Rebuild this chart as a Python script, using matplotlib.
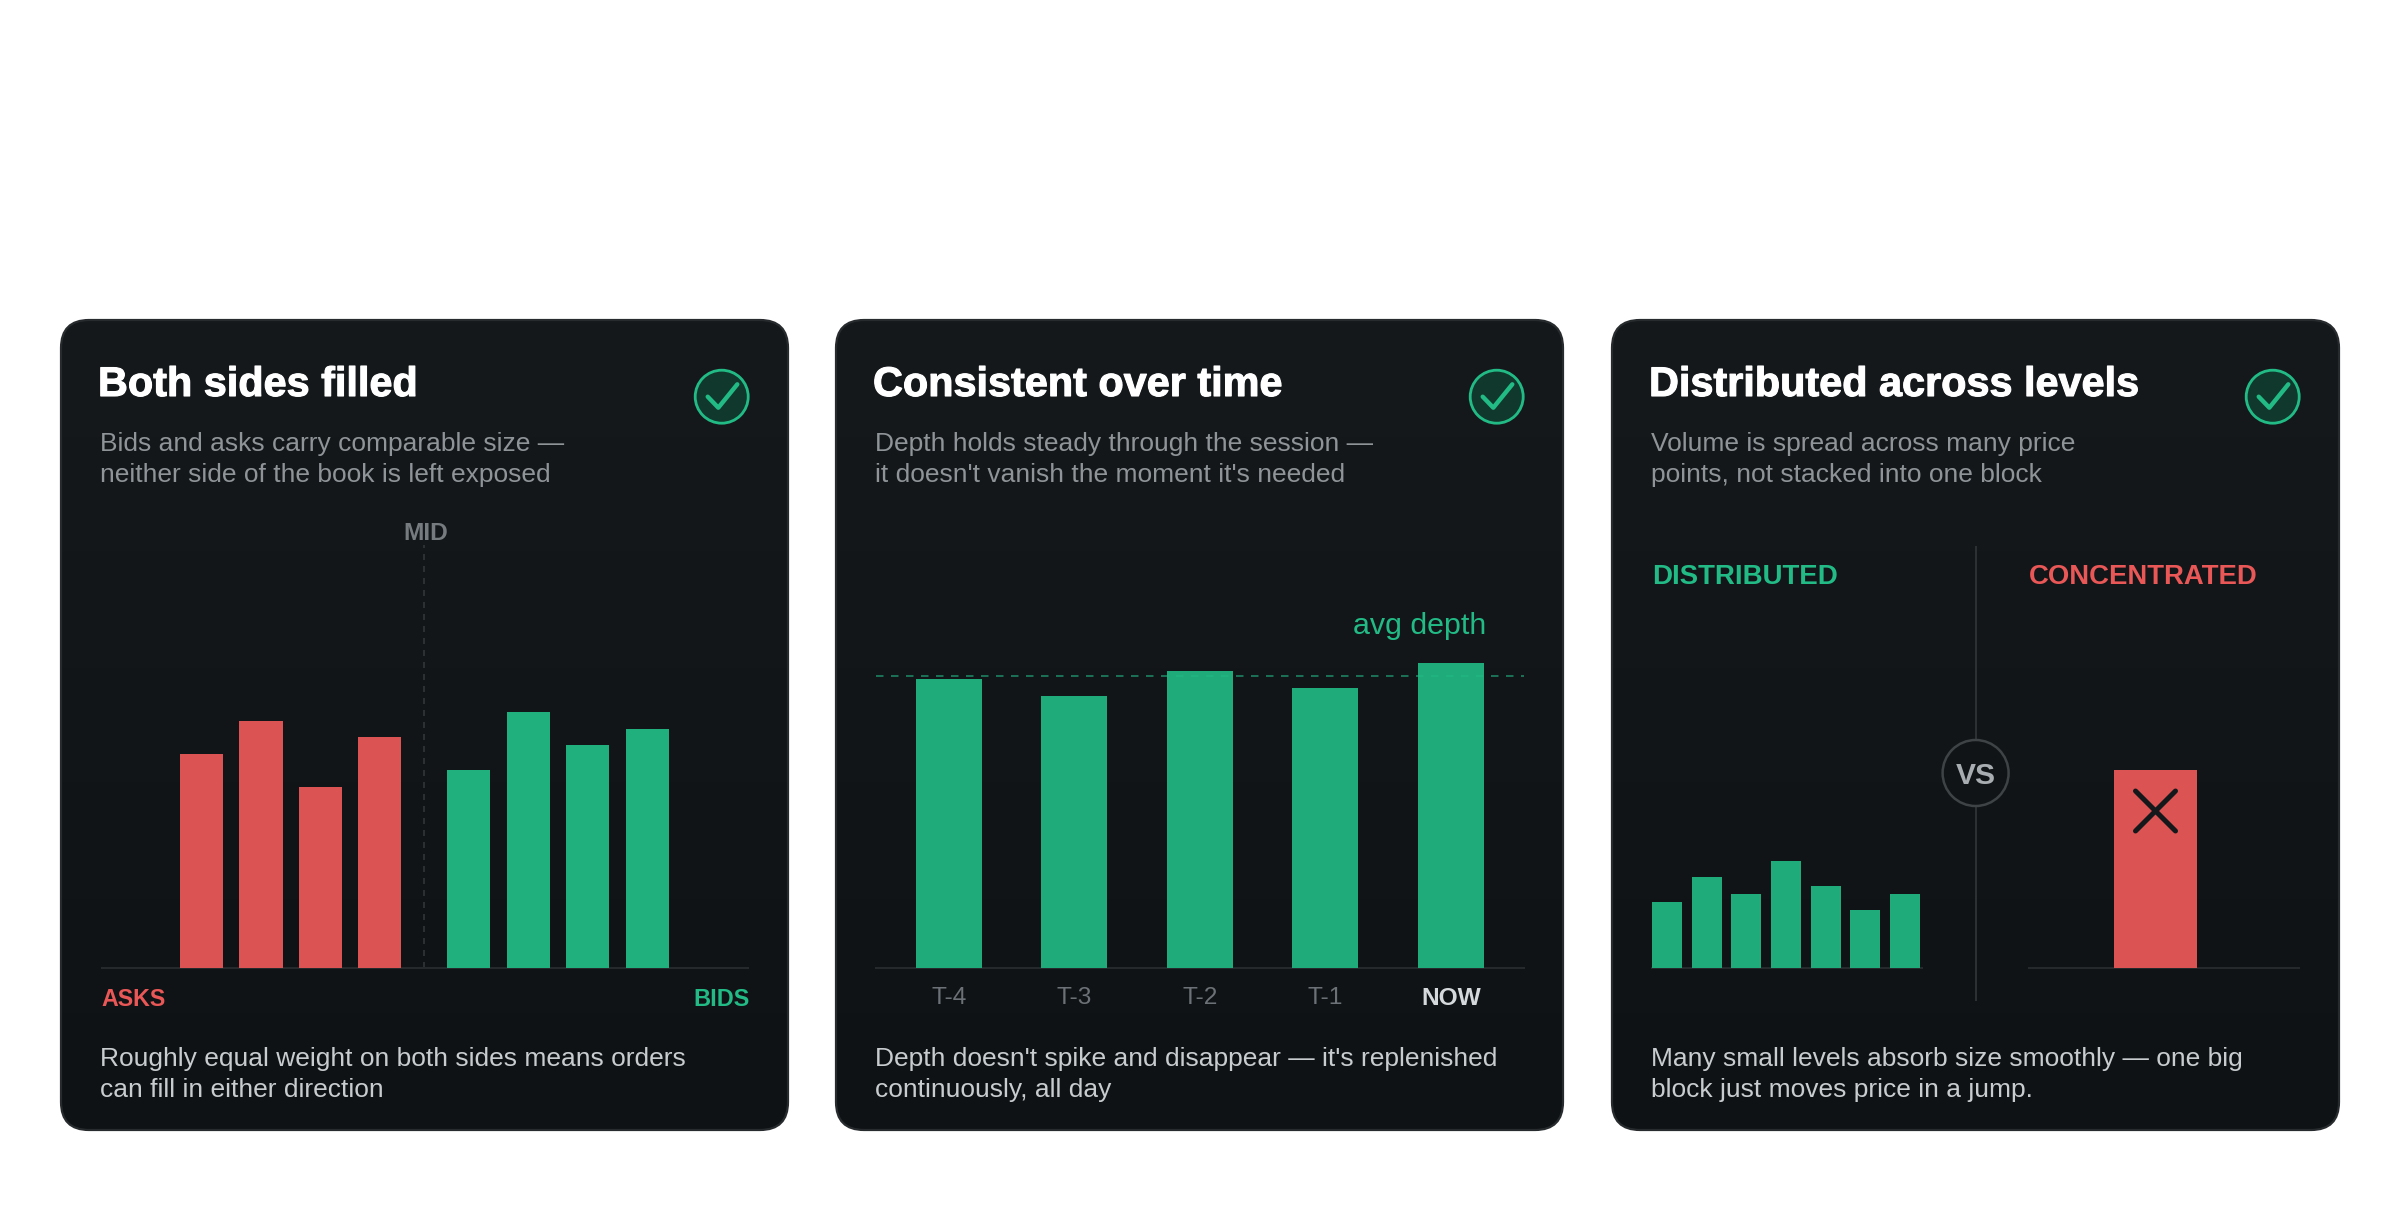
import numpy as np
import matplotlib
matplotlib.use("Agg")
import matplotlib.pyplot as plt
import matplotlib.patheffects as pe
from matplotlib.colors import LinearSegmentedColormap
from matplotlib.patches import FancyBboxPatch, Circle

plt.rcParams['font.family'] = ['Liberation Sans', 'DejaVu Sans']

# данные
asks = [130, 150, 110, 140]
bids = [120, 155, 135, 145]
depth = [175, 165, 180, 170, 185]
avg_depth = 177
depth_labels = ["T-4", "T-3", "T-2", "T-1", "NOW"]
distributed = [40, 55, 45, 65, 50, 35, 45]
concentrated = [120]

titles = ["Both sides filled", "Consistent over time", "Distributed across levels"]
subtitles = [
    "Bids and asks carry comparable size —\nneither side of the book is left exposed",
    "Depth holds steady through the session —\nit doesn't vanish the moment it's needed",
    "Volume is spread across many price\npoints, not stacked into one block",
]
captions = [
    "Roughly equal weight on both sides means orders\ncan fill in either direction",
    "Depth doesn't spike and disappear — it's replenished\ncontinuously, all day",
    "Many small levels absorb size smoothly — one big\nblock just moves price in a jump.",
]

W, H = 2400, 1215
GREEN = "#20b07d"
GREEN_DARK = "#1fab7a"
GREEN_TEXT = "#22bb86"
RED = "#dc5354"
RED_TEXT = "#ea5757"
BASE = "#25292c"
PX_PER_UNIT = 1.65
BASE_Y = 968
PT = 0.72  # пиксели в пункты при dpi=100

fig = plt.figure(figsize=(W / 100, H / 100), dpi=100, facecolor="white")

bg = fig.add_axes([0, 0, 1, 1], zorder=0)
fg = fig.add_axes([0, 0, 1, 1], zorder=2)
fg.patch.set_alpha(0)
card_cmap = LinearSegmentedColormap.from_list("card", ["#15191c", "#0e1214"])


def chart_axes(left, right, ymax, xlim):
    height = ymax * PX_PER_UNIT
    ax = fig.add_axes([left / W, (H - BASE_Y) / H, (right - left) / W, height / H], zorder=1)
    ax.patch.set_alpha(0)
    ax.set_xlim(*xlim)
    ax.set_ylim(0, ymax)
    for side in ["top", "left", "right"]:
        ax.spines[side].set_visible(False)
    ax.spines["bottom"].set_color(BASE)
    ax.spines["bottom"].set_linewidth(2 * PT)
    ax.set_yticks([])
    ax.set_xticks([])
    return ax


# карточки
card_lefts = [61, 836, 1612]
for i, left in enumerate(card_lefts):
    box = FancyBboxPatch((left, 320), 727, 810, boxstyle="round,pad=0,rounding_size=28",
                         facecolor="none", edgecolor="#272b2d", linewidth=2.2 * PT, zorder=2)
    bg.add_patch(box)
    grad = bg.imshow(np.linspace(0, 1, 256).reshape(-1, 1), cmap=card_cmap, aspect="auto",
                     extent=(left, left + 727, 1130, 320), zorder=1)
    grad.set_clip_path(box)

    fg.text(left + 37, 396, titles[i], color="white", fontsize=41.4 * PT, fontweight="bold", va="baseline",
            path_effects=[pe.withStroke(linewidth=0.8, foreground="white")])
    fg.text(left + 39, 451, subtitles[i].split("\n")[0], color="#8f9498", fontsize=26.4 * PT, va="baseline")
    fg.text(left + 39, 482, subtitles[i].split("\n")[1], color="#8f9498", fontsize=26.4 * PT, va="baseline")
    fg.text(left + 39, 1066, captions[i].split("\n")[0], color="#c8cccf", fontsize=26.4 * PT, va="baseline")
    fg.text(left + 39, 1097, captions[i].split("\n")[1], color="#c8cccf", fontsize=26.4 * PT, va="baseline")

    # значок с галочкой
    cx = left + 660.7
    fg.add_patch(Circle((cx, 396.7), 26.5, facecolor="#10382c", edgecolor=GREEN_TEXT, linewidth=2.8 * PT))
    fg.plot([cx - 14, cx - 3.4, cx + 15.6], [396.7, 407.7, 384.3], color=GREEN_TEXT, lw=4.4 * PT,
            solid_capstyle="round", solid_joinstyle="round")

# левая карточка: стакан
ax1 = chart_axes(101.6, 748, 256.4, (-1.684, 9.2))
ax1.bar(np.arange(len(asks)), asks, width=0.725, color=RED, zorder=3)
ax1.bar(np.arange(len(bids)) + 4.5, bids, width=0.725, color=GREEN, zorder=3)
ax1.axvline(3.75, color="#35393c", lw=1.5 * PT, dashes=(4, 4), zorder=2)
fg.text(425.5, 533.5, "MID", color="#757b7f", fontsize=24.5 * PT, fontweight="bold", ha="center", va="center")
fg.text(101.5, 1000, "ASKS", color=RED_TEXT, fontsize=23.3 * PT, fontweight="bold", va="center")
fg.text(750, 1000, "BIDS", color=GREEN_TEXT, fontsize=23.5 * PT, fontweight="bold", ha="right", va="center")

# средняя карточка: глубина по времени
ax2 = chart_axes(876, 1524, 200, (-0.58, 4.583))
ax2.bar(np.arange(len(depth)), depth, width=0.526, color=GREEN_DARK, zorder=3)
ax2.axhline(avg_depth, color=GREEN_TEXT, alpha=0.55, lw=2 * PT, dashes=(3.75, 3.75), zorder=4)
ax2.set_xticks(np.arange(len(depth)), depth_labels)
ax2.tick_params(axis="x", length=0, pad=13.5, labelsize=24.5 * PT, labelcolor="#6b7176")
ax2.get_xticklabels()[-1].set_color("#d6d9db")
ax2.get_xticklabels()[-1].set_fontweight("bold")
fg.text(1486, 634.5, "avg depth", color=GREEN_TEXT, fontsize=30.4 * PT, ha="right", va="baseline")

# правая карточка: сравнение
ax3 = chart_axes(1652, 1922.3, 130, (-0.378, 6.44))
ax3.bar(np.arange(len(distributed)), distributed, width=0.756, color=GREEN_DARK, zorder=3)
ax4 = chart_axes(2028.5, 2299, 130, (-1.528, 1.731))
ax4.bar([0], concentrated, width=1, color=RED, zorder=3)
fg.text(1652, 576.5, "DISTRIBUTED", color=GREEN_TEXT, fontsize=27.6 * PT, fontweight="bold", va="center")
fg.text(2028.5, 576.5, "CONCENTRATED", color=RED_TEXT, fontsize=27.5 * PT, fontweight="bold", va="center")

fg.plot([1975.7, 1975.7], [547, 1000], color="#2c3033", lw=2 * PT)
fg.add_patch(Circle((1975.6, 773), 33, facecolor="#111417", edgecolor="#3e4345", linewidth=2.5 * PT, zorder=3))
fg.text(1975.6, 775.5, "VS", color="#a8adb1", fontsize=30 * PT, fontweight="bold", ha="center", va="center", zorder=4)

# крестик на большом блоке
fg.plot([2135.5, 2175.5], [791, 831], color="#14181a", lw=5 * PT, solid_capstyle="round")
fg.plot([2175.5, 2135.5], [791, 831], color="#14181a", lw=5 * PT, solid_capstyle="round")

for a in (bg, fg):
    a.set_xlim(0, W)
    a.set_ylim(H, 0)
    a.axis("off")

fig.savefig("out.png", dpi=100)
